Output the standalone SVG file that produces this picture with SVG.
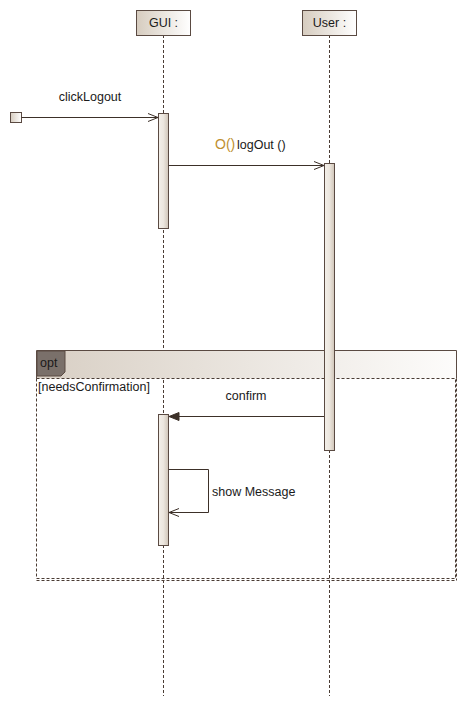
<svg xmlns="http://www.w3.org/2000/svg" width="467" height="706" viewBox="0 0 467 706">
<defs>
<linearGradient id="hdr" x1="0" y1="0" x2="1" y2="0"><stop offset="0" stop-color="#d6ccbf"/><stop offset="1" stop-color="#ffffff"/></linearGradient>
<linearGradient id="act" x1="0" y1="0" x2="1" y2="0"><stop offset="0" stop-color="#f4f0ea"/><stop offset="0.5" stop-color="#ece6de"/><stop offset="1" stop-color="#cfc4b7"/></linearGradient>
<linearGradient id="band" x1="0" y1="0" x2="1" y2="0"><stop offset="0" stop-color="#d8cfc4"/><stop offset="1" stop-color="#fdfcfb"/></linearGradient>
<marker id="open" markerWidth="12" markerHeight="10" refX="11" refY="5" orient="auto" markerUnits="userSpaceOnUse"><path d="M1,1 L11,5 L1,9" fill="none" stroke="#3c3028" stroke-width="1"/></marker>
<marker id="filled" markerWidth="12" markerHeight="10" refX="11" refY="5" orient="auto" markerUnits="userSpaceOnUse"><path d="M1,1 L11,5 L1,9 Z" fill="#3c3028" stroke="#3c3028"/></marker>
</defs>
<style>
text{font-family:"Liberation Sans",Arial,sans-serif;font-size:12.5px;fill:#1a1a1a}
.life{stroke:#4a3c34;stroke-dasharray:3,2;stroke-width:1;fill:none}
.box{fill:url(#hdr);stroke:#5a4a42;stroke-width:1}
.act{fill:url(#act);stroke:#5a4a42;stroke-width:1}
.msg{stroke:#3c3028;stroke-width:1;fill:none}
</style>
<rect width="467" height="706" fill="#ffffff"/>
<g id="GUI">
<line class="life" x1="163.5" y1="35" x2="163.5" y2="696"/>
<rect class="box" x="136.5" y="10.5" width="54" height="25"/>
<text x="163.5" y="27" text-anchor="middle">GUI :</text>
</g>
<g id="User">
<line class="life" x1="329.5" y1="35" x2="329.5" y2="696"/>
<rect class="box" x="302.5" y="10.5" width="54" height="25"/>
<text x="329.5" y="27" text-anchor="middle">User :</text>
</g>
<g id="opt">
<rect x="36.5" y="350.5" width="420" height="28" fill="url(#band)" stroke="none"/>
<path d="M36.5,378.5 V350.5 H456.5 V378.5" fill="none" stroke="#5a4a42"/>
<rect x="36.5" y="378.5" width="419" height="200" fill="none" stroke="#4a3c34" stroke-dasharray="3,2"/>
<line x1="36.5" y1="580.5" x2="456.5" y2="580.5" stroke="#4a3c34" stroke-dasharray="3,2"/>
<line x1="456.5" y1="378.5" x2="456.5" y2="580.5" stroke="#4a3c34" stroke-dasharray="3,2"/>
<path d="M37,351 H65 V372 L61,376 H37 Z" fill="#7a706a" stroke="#5a4a42"/>
<text x="40" y="367">opt</text>
<text x="38" y="391">[needsConfirmation]</text>
</g>
<g id="GUI-activations">
<rect class="act" x="158.5" y="113.5" width="10" height="115"/>
<rect class="act" x="158.5" y="414.5" width="10" height="131"/>
</g>
<g id="User-activation">
<rect class="act" x="324.5" y="163.5" width="10" height="287"/>
</g>
<g id="start">
<rect x="10.5" y="112.5" width="11" height="10" fill="url(#hdr)" stroke="#5a4a42"/>
</g>
<g id="connectors">
<line class="msg" x1="21.5" y1="117.5" x2="158" y2="117.5" marker-end="url(#open)"/>
<text x="90" y="101" text-anchor="middle">clickLogout</text>
<line class="msg" x1="168.5" y1="165.5" x2="324" y2="165.5" marker-end="url(#open)"/>
<text x="215" y="149" style="font-size:14px;fill:#c09030">O()</text>
<text x="237" y="149">logOut ()</text>
<line class="msg" x1="324" y1="416.5" x2="169" y2="416.5" marker-end="url(#filled)"/>
<text x="246" y="400" text-anchor="middle">confirm</text>
<path class="msg" d="M168.5,469.5 H208.5 V512.5 H169" marker-end="url(#open)"/>
<text x="212" y="496">show Message</text>
</g>
</svg>
